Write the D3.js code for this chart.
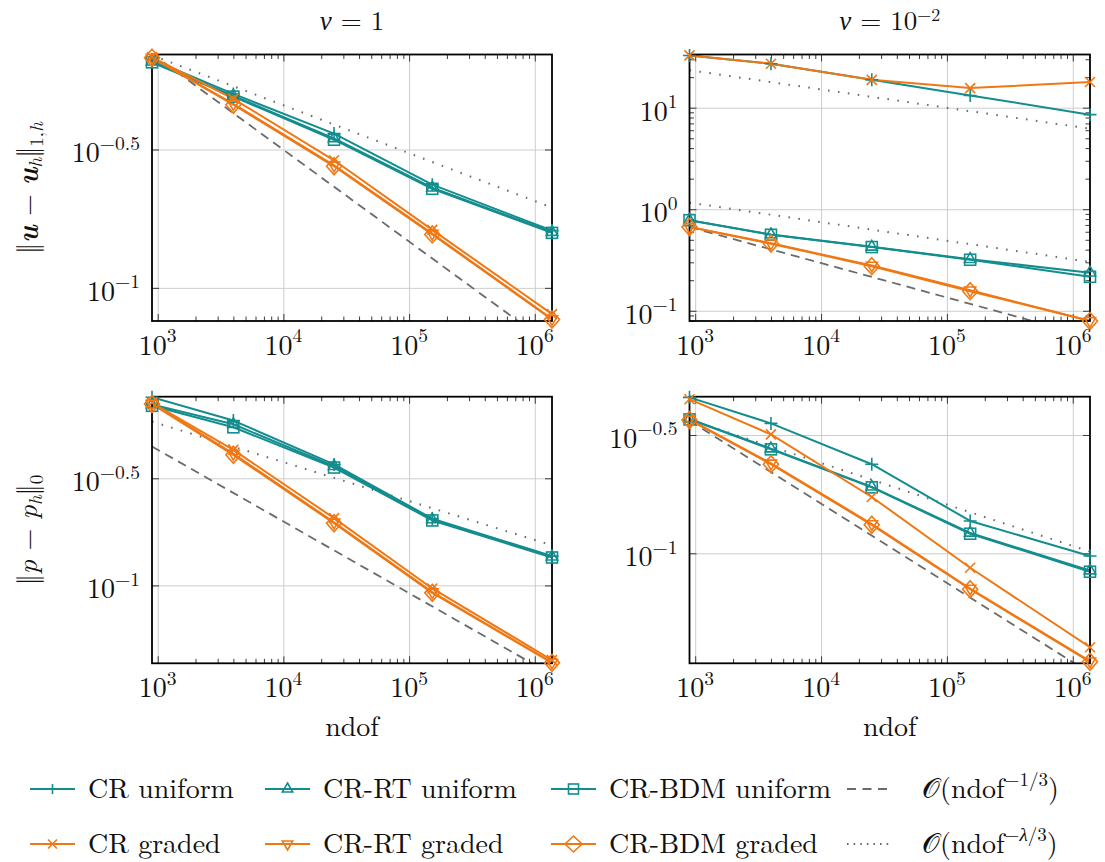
<!DOCTYPE html>
<html>
<head>
<meta charset="utf-8">
<script src="https://cdn.jsdelivr.net/npm/d3@7"></script>
<style>
  body { margin: 0; background: #fff; }
</style>
</head>
<body>
<svg id="fig" width="1105" height="862"></svg>
<script>
// ---- data -------------------------------------------------------------
// degrees of freedom of the five meshes (shared by all runs)
const ndof = [901, 4000, 25300, 153000, 1371000];

const seriesLabels = ["CR uniform", "CR-RT uniform", "CR-BDM uniform",
                      "CR graded", "CR-RT graded", "CR-BDM graded"];

// velocity error ||u - u_h||_{1,h}, nu = 1  (order: seriesLabels)
const uErrNu1 = [
  [0.668, 0.502, 0.361, 0.236, 0.161],
  [0.656, 0.494, 0.347, 0.230, 0.159],
  [0.653, 0.491, 0.343, 0.228, 0.158],
  [0.682, 0.482, 0.289, 0.162, 0.0804],
  [0.679, 0.462, 0.277, 0.157, 0.0772],
  [0.678, 0.459, 0.275, 0.156, 0.0769]
];
// velocity error, nu = 1e-2
const uErrNu2 = [
  [32.7, 27.1, 18.8, 13.2, 8.54],
  [0.780, 0.564, 0.426, 0.322, 0.237],
  [0.780, 0.560, 0.424, 0.318, 0.216],
  [32.7, 27.1, 18.8, 15.6, 17.9],
  [0.670, 0.462, 0.279, 0.159, 0.0795],
  [0.668, 0.458, 0.275, 0.156, 0.0793]
];
// pressure error ||p - p_h||_0, nu = 1
const pErrNu1 = [
  [0.755, 0.588, 0.367, 0.205, 0.137],
  [0.700, 0.565, 0.360, 0.203, 0.136],
  [0.689, 0.547, 0.355, 0.201, 0.135],
  [0.712, 0.429, 0.206, 0.0968, 0.0448],
  [0.705, 0.412, 0.197, 0.0930, 0.0437],
  [0.703, 0.407, 0.195, 0.0923, 0.0435]
];
// pressure error, nu = 1e-2
const pErrNu2 = [
  [0.456, 0.354, 0.238, 0.137, 0.0975],
  [0.370, 0.277, 0.191, 0.122, 0.0845],
  [0.368, 0.275, 0.190, 0.121, 0.0836],
  [0.448, 0.318, 0.173, 0.0869, 0.0401],
  [0.368, 0.240, 0.133, 0.0710, 0.0350],
  [0.366, 0.238, 0.132, 0.0705, 0.0348]
];

// reference rates: values at the first and last ndof
const uNu1Dashed = [0.701, 0.0617];
const uNu1Dotted = [[0.693, 0.195]];
const uNu2Dashed = [0.667, 0.0556];
const uNu2Dotted = [[23.4, 6.21], [1.16, 0.303]];
const pNu1Dashed = [0.445, 0.0383];
const pNu1Dotted = [[0.582, 0.154]];
const pNu2Dashed = [0.363, 0.0312];
const pNu2Dotted = [[0.367, 0.1016]];

// axis limits
const uNu1Lim = [0.0759, 0.697];
const uNu2Lim = [0.0793, 33.4];
const pNu1Lim = [0.0433, 0.760];
const pNu2Lim = [0.0343, 0.459];

// tick values and their exponent labels
const xTicks = [1e3, 1e4, 1e5, 1e6];
const xTickExp = ["3", "4", "5", "6"];
const yTicksHalf = [Math.pow(10, -1), Math.pow(10, -0.5)];
const yTicksHalfExp = ["\u22121", "\u22120.5"];
const yTicksDecade = [0.1, 1, 10];
const yTicksDecadeExp = ["\u22121", "0", "1"];

const titles = [["1", null], ["10", "\u22122"]];

// ---- styling ----------------------------------------------------------
const TEAL = "#138d8d", ORANGE = "#f07814", REF = "#6b6b6b";
const seriesColors = [TEAL, TEAL, TEAL, ORANGE, ORANGE, ORANGE];
const seriesMarks = ["plus", "triangle", "square", "cross", "triangleDown", "diamond"];
const FONT = '"Latin Modern Roman"';
const FS = 28;

const svg = d3.select("#fig");
const colX = [[152, 552], [689.5, 1090]];
const rowY = [[54.5, 321], [396.7, 663.3]];

const panels = [
  { col: 0, row: 0, data: uErrNu1, lim: uNu1Lim, yt: yTicksHalf, ye: yTicksHalfExp, minorY: false, dashed: uNu1Dashed, dotted: uNu1Dotted },
  { col: 1, row: 0, data: uErrNu2, lim: uNu2Lim, yt: yTicksDecade, ye: yTicksDecadeExp, minorY: true, dashed: uNu2Dashed, dotted: uNu2Dotted },
  { col: 0, row: 1, data: pErrNu1, lim: pNu1Lim, yt: yTicksHalf, ye: yTicksHalfExp, minorY: false, dashed: pNu1Dashed, dotted: pNu1Dotted },
  { col: 1, row: 1, data: pErrNu2, lim: pNu2Lim, yt: yTicksHalf, ye: yTicksHalfExp, minorY: false, dashed: pNu2Dashed, dotted: pNu2Dotted }
];

function minorTicks(lo, hi) {
  const out = [];
  for (let e = Math.floor(Math.log10(lo)); e <= Math.ceil(Math.log10(hi)); e++) {
    for (let k = 2; k <= 9; k++) {
      const v = k * Math.pow(10, e);
      if (v > lo && v < hi) out.push(v);
    }
  }
  return out;
}

function txt(g, size) {
  return g.append("text").style("font-family", FONT).style("font-size", size + "px").attr("fill", "#111");
}

// power-of-ten label: "10" with a raised exponent
function powLabel(g, x, y, exp, anchor, size) {
  const t = txt(g, size).attr("x", x).attr("y", y).attr("text-anchor", anchor);
  t.append("tspan").text("10");
  t.append("tspan").attr("dy", -0.45 * size).style("font-size", (size * 0.7) + "px").text(exp);
  return t;
}

function drawMark(g, type, cx, cy, color, s) {
  const st = { stroke: color, "stroke-width": 1.6, fill: "none" };
  const apply = sel => { for (const k in st) sel.attr(k, st[k]); return sel; };
  if (type === "plus") {
    apply(g.append("path").attr("d", `M${cx - s.p},${cy}H${cx + s.p}M${cx},${cy - s.p}V${cy + s.p}`));
  } else if (type === "cross") {
    const c = s.c;
    apply(g.append("path").attr("d", `M${cx - c},${cy - c}L${cx + c},${cy + c}M${cx - c},${cy + c}L${cx + c},${cy - c}`));
  } else if (type === "triangle" || type === "triangleDown") {
    const r = s.t, d = type === "triangle" ? 1 : -1;
    const h = r * 0.866;
    apply(g.append("path").attr("d",
      `M${cx},${cy - d * r}L${cx + h},${cy + d * r / 2}L${cx - h},${cy + d * r / 2}Z`));
  } else if (type === "square") {
    apply(g.append("rect").attr("x", cx - s.s).attr("y", cy - s.s).attr("width", 2 * s.s).attr("height", 2 * s.s));
  } else if (type === "diamond") {
    apply(g.append("path").attr("d",
      `M${cx},${cy - s.dh}L${cx + s.dw},${cy}L${cx},${cy + s.dh}L${cx - s.dw},${cy}Z`));
  }
}
const plotMarkSize = { p: 6.5, c: 5, t: 6.5, s: 5.5, dw: 7.5, dh: 8.5 };
const legendMarkSize = { p: 5, c: 4.5, t: 6, s: 5, dw: 8.5, dh: 8 };

panels.forEach((P, pi) => {
  const [x0, x1] = colX[P.col];
  const [y0, y1] = rowY[P.row];
  const x = d3.scaleLog().domain([ndof[0], ndof[ndof.length - 1]]).range([x0, x1]);
  const y = d3.scaleLog().domain(P.lim).range([y1, y0]);
  const g = svg.append("g");

  // grid
  g.append("g").attr("transform", `translate(0,${y1})`)
    .call(d3.axisBottom(x).tickValues(xTicks).tickSize(-(y1 - y0)).tickFormat(""))
    .call(s => { s.select(".domain").remove(); s.selectAll("line").attr("stroke", "#cdcdcd").attr("stroke-width", 1); });
  g.append("g").attr("transform", `translate(${x0},0)`)
    .call(d3.axisLeft(y).tickValues(P.yt).tickSize(-(x1 - x0)).tickFormat(""))
    .call(s => { s.select(".domain").remove(); s.selectAll("line").attr("stroke", "#cdcdcd").attr("stroke-width", 1); });

  // tick marks (inward)
  const tickStyle = s => { s.select(".domain").remove(); s.selectAll("line").attr("stroke", "#3a3a3a").attr("stroke-width", 1); };
  const xMinor = minorTicks(ndof[0], ndof[ndof.length - 1]);
  g.append("g").attr("transform", `translate(0,${y1})`).call(d3.axisBottom(x).tickValues(xTicks).tickSize(-7).tickFormat("")).call(tickStyle);
  g.append("g").attr("transform", `translate(0,${y1})`).call(d3.axisBottom(x).tickValues(xMinor).tickSize(-4.5).tickFormat("")).call(tickStyle);
  g.append("g").attr("transform", `translate(0,${y0})`).call(d3.axisTop(x).tickValues(xTicks).tickSize(-7).tickFormat("")).call(tickStyle);
  g.append("g").attr("transform", `translate(0,${y0})`).call(d3.axisTop(x).tickValues(xMinor).tickSize(-4.5).tickFormat("")).call(tickStyle);
  g.append("g").attr("transform", `translate(${x0},0)`).call(d3.axisLeft(y).tickValues(P.yt).tickSize(-7).tickFormat("")).call(tickStyle);
  g.append("g").attr("transform", `translate(${x1},0)`).call(d3.axisRight(y).tickValues(P.yt).tickSize(-7).tickFormat("")).call(tickStyle);
  if (P.minorY) {
    const yMinor = minorTicks(P.lim[0], P.lim[1]);
    g.append("g").attr("transform", `translate(${x0},0)`).call(d3.axisLeft(y).tickValues(yMinor).tickSize(-4.5).tickFormat("")).call(tickStyle);
    g.append("g").attr("transform", `translate(${x1},0)`).call(d3.axisRight(y).tickValues(yMinor).tickSize(-4.5).tickFormat("")).call(tickStyle);
  }

  // clip region for lines
  const clipId = "clip" + pi;
  svg.append("clipPath").attr("id", clipId).append("rect")
    .attr("x", x0).attr("y", y0).attr("width", x1 - x0).attr("height", y1 - y0);
  const lines = g.append("g").attr("clip-path", `url(#${clipId})`);
  const line = d3.line().x((d, i) => x(ndof[i])).y(d => y(d));
  const ends = [ndof[0], ndof[ndof.length - 1]];
  const refLine = d3.line().x((d, i) => x(ends[i])).y(d => y(d));

  // reference rates
  lines.append("path").attr("d", refLine(P.dashed)).attr("fill", "none")
    .attr("stroke", REF).attr("stroke-width", 1.8).attr("stroke-dasharray", "9,6");
  P.dotted.forEach(dv => {
    lines.append("path").attr("d", refLine(dv)).attr("fill", "none")
      .attr("stroke", REF).attr("stroke-width", 2).attr("stroke-dasharray", "1.6,8.4");
  });

  // data lines
  P.data.forEach((vals, si) => {
    lines.append("path").attr("d", line(vals)).attr("fill", "none")
      .attr("stroke", seriesColors[si]).attr("stroke-width", 2).attr("stroke-linejoin", "round");
  });

  // frame
  g.append("rect").attr("x", x0).attr("y", y0).attr("width", x1 - x0).attr("height", y1 - y0)
    .attr("fill", "none").attr("stroke", "#000").attr("stroke-width", 1.8);

  // markers
  const marks = g.append("g");
  P.data.forEach((vals, si) => {
    vals.forEach((v, i) => drawMark(marks, seriesMarks[si], x(ndof[i]), y(v), seriesColors[si], plotMarkSize));
  });

  // tick labels
  xTicks.forEach((v, i) => powLabel(g, x(v), y1 + 34, xTickExp[i], "middle", FS));
  P.yt.forEach((v, i) => powLabel(g, x0 - 12, y(v) + 13, P.ye[i], "end", FS));

  // x label on bottom row
  if (P.row === 1) {
    txt(g, FS).attr("x", (x0 + x1) / 2).attr("y", 736).attr("text-anchor", "middle").text("ndof");
  }
  // column titles
  if (P.row === 0) {
    const t = txt(g, 27).attr("x", (x0 + x1) / 2).attr("y", 30).attr("text-anchor", "middle");
    t.append("tspan").style("font-style", "italic").text("\u03bd");
    t.append("tspan").text(" = " + titles[P.col][0]);
    if (titles[P.col][1]) t.append("tspan").attr("dy", -9).style("font-size", "18px").text(titles[P.col][1]);
  }
});

// y-axis labels (rotated)
function normLabelU(cx, cy) {
  const t = txt(svg, FS).attr("transform", `translate(${cx},${cy}) rotate(-90)`).attr("text-anchor", "middle");
  t.append("tspan").text("\u2016");
  t.append("tspan").style("font-weight", "bold").style("font-style", "italic").text("u");
  t.append("tspan").text(" \u2212 ");
  t.append("tspan").style("font-weight", "bold").style("font-style", "italic").text("u");
  t.append("tspan").attr("dy", 5).style("font-size", "19px").style("font-style", "italic").text("h");
  t.append("tspan").attr("dy", -5).text("\u2016");
  t.append("tspan").attr("dy", 6).style("font-size", "19px").text("1,");
  t.append("tspan").style("font-size", "19px").style("font-style", "italic").text("h");
}
function normLabelP(cx, cy) {
  const t = txt(svg, FS).attr("transform", `translate(${cx},${cy}) rotate(-90)`).attr("text-anchor", "middle");
  t.append("tspan").text("\u2016");
  t.append("tspan").style("font-style", "italic").text("p");
  t.append("tspan").text(" \u2212 ");
  t.append("tspan").style("font-style", "italic").text("p");
  t.append("tspan").attr("dy", 5).style("font-size", "19px").style("font-style", "italic").text("h");
  t.append("tspan").attr("dy", -5).text("\u2016");
  t.append("tspan").attr("dy", 6).style("font-size", "19px").text("0");
}
normLabelU(37, 188);
normLabelP(37, 530);

// ---- legend -----------------------------------------------------------
const legendRows = [789, 844];
const legendLineX = [30, 265, 551, 847];
const lg = svg.append("g");
seriesLabels.forEach((lab, si) => {
  const r = si < 3 ? 0 : 1, c = si % 3;
  const ly = legendRows[r], lx = legendLineX[c];
  lg.append("line").attr("x1", lx).attr("x2", lx + 45).attr("y1", ly).attr("y2", ly)
    .attr("stroke", seriesColors[si]).attr("stroke-width", 2);
  drawMark(lg, seriesMarks[si], lx + 22.5, ly, seriesColors[si], legendMarkSize);
  txt(lg, FS).attr("x", lx + 58).attr("y", ly + 9).text(lab);
});
// reference-rate entries
[["9,6.5", 1.8, "1"], ["1.6,5", 2, "\u03bb"]].forEach((spec, r) => {
  const ly = legendRows[r], lx = legendLineX[3];
  lg.append("line").attr("x1", lx).attr("x2", lx + 45).attr("y1", ly).attr("y2", ly)
    .attr("stroke", REF).attr("stroke-width", spec[1]).attr("stroke-dasharray", spec[0]);
  const t = txt(lg, FS).attr("x", lx + 75).attr("y", ly + 9);
  t.append("tspan").text("\ud835\udcaa");
  t.append("tspan").text("(ndof");
  const sup = t.append("tspan").attr("dy", -12).style("font-size", "19px");
  sup.append("tspan").text("\u2212");
  sup.append("tspan").style("font-style", r === 1 ? "italic" : "normal").text(spec[2]);
  t.append("tspan").style("font-size", "19px").text("/3");
  t.append("tspan").attr("dy", 12).text(")");
});
</script>
</body>
</html>
